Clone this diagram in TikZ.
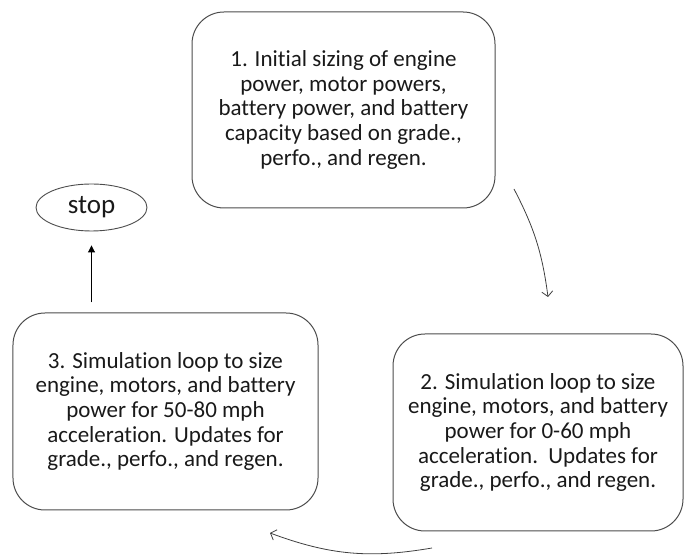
\documentclass[tikz,border=0pt]{standalone}
\usepackage{fontspec}
\setmainfont{Carlito}[Ligatures={NoCommon}]
\usepackage{tikz}
\usetikzlibrary{arrows.meta,shapes.geometric}

\begin{document}
\begin{tikzpicture}[x=1bp, y=1bp,
  box/.style={draw=black!70, line width=1bp, rounded corners=32bp, align=center, inner sep=0pt, text=black!90, font=\fontsize{23bp}{24.7bp}\selectfont},
  endnode/.style={draw=black!70, line width=0.9bp, ellipse, inner sep=0pt, minimum width=111bp, minimum height=47bp, text=black!90, font=\fontsize{27bp}{30bp}\selectfont},
  loop/.style={black!75, line width=0.8bp, -{Straight Barb[length=5bp, width=11bp]}}]
  \useasboundingbox (0,0) rectangle (684,556);
  \node[box, minimum width=303bp, minimum height=196bp] (S1) at (343.5,446)
    {1. Initial sizing of engine\\power, motor powers,\\battery power, and battery\\capacity based on grade.,\\perfo., and regen.};
  \node[box, minimum width=290bp, minimum height=197bp] (S2) at (538,123.5)
    {2. Simulation loop to size\\engine, motors, and battery\\power for 0-60 mph\\acceleration.\ \ Updates for\\grade., perfo., and regen.};
  \node[box, minimum width=305bp, minimum height=197bp] (S3) at (165.5,144.5)
    {3. Simulation loop to size\\engine, motors, and battery\\power for 50-80 mph\\acceleration. Updates for\\grade., perfo., and regen.};
  \node[endnode] (stop) at (91.5,348.5) {stop};
  % loose arrow ends between the boxes
  \coordinate (a1) at (514,367);
  \coordinate (b1) at (548,259);
  \coordinate (a2) at (432,8);
  \coordinate (b2) at (270,23);
  \draw[loop] (a1) to[bend left=10] (b1);
  \draw[loop] (a2) to[bend left=15] (b2);
  \draw[line width=0.9bp, -{Triangle[length=7bp, width=7bp]}, shorten <=10bp, shorten >=14bp]
    (stop.south |- S3.north) -- (stop.south);
\end{tikzpicture}
\end{document}
